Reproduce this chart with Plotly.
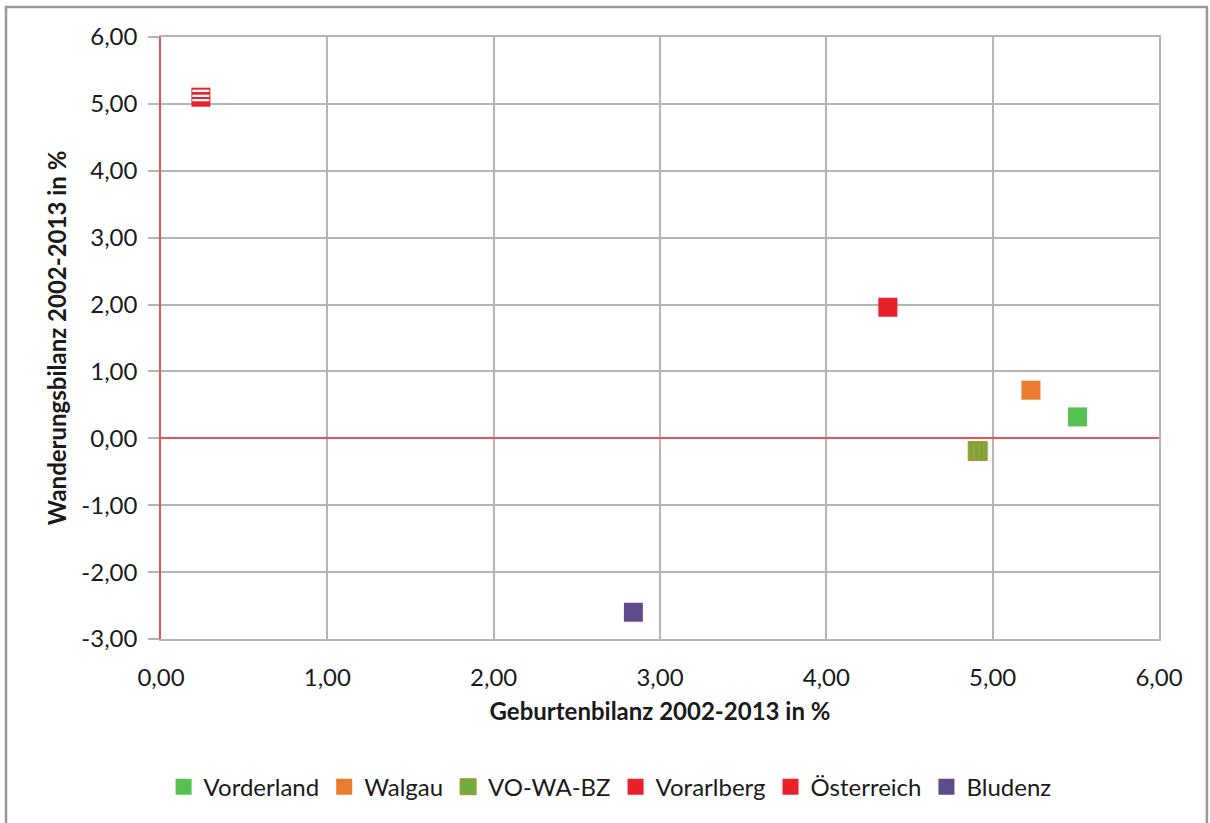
import plotly.graph_objects as go

# ---- data ----
names = ["Vorderland", "Walgau", "VO-WA-BZ", "Vorarlberg", "Österreich", "Bludenz"]
geburten = [5.51, 5.23, 4.91, 4.37, 0.24, 2.84]
wanderung = [0.32, 0.72, -0.19, 1.96, 5.10, -2.60]
colors = ["#55c152", "#ea7b2f", "#7ea23c", "#e8202a", "#e8202a", "#5f4a8b"]
x_ticks = [0, 1, 2, 3, 4, 5, 6]
x_ticktext = ["0,00", "1,00", "2,00", "3,00", "4,00", "5,00", "6,00"]
y_ticks = [-3, -2, -1, 0, 1, 2, 3, 4, 5, 6]
y_ticktext = ["-3,00", "-2,00", "-1,00", "0,00", "1,00", "2,00", "3,00",
              "4,00", "5,00", "6,00"]

FONT = "Lato"
GRID = "#b4b4b4"
RED = "#e25555"
FS = 24

fig = go.Figure()

for i, n in enumerate(names):
    if n == "Österreich":
        # red square with white horizontal bars on top -> red stripes
        fig.add_trace(go.Scatter(
            x=[geburten[i]], y=[wanderung[i]], mode="markers", name=n,
            legendgroup=n,
            marker=dict(symbol="square", size=19, color=colors[i]),
        ))
        fig.add_trace(go.Scatter(
            x=[geburten[i]], y=[wanderung[i]], mode="text", text=["≡"],
            legendgroup=n, showlegend=False, hoverinfo="skip",
            textfont=dict(family="DejaVu Sans", size=27, color="white"),
            textposition="middle center",
        ))
    elif n == "VO-WA-BZ":
        fig.add_trace(go.Scatter(
            x=[geburten[i]], y=[wanderung[i]], mode="markers", name=n,
            legendgroup=n,
            marker=dict(symbol="square", size=19, color="#6fae3e",
                        line=dict(color="#c9842e", width=1)),
        ))
        fig.add_trace(go.Scatter(
            x=[geburten[i]], y=[wanderung[i]], mode="text", text=["|||"],
            legendgroup=n, showlegend=False, hoverinfo="skip",
            textfont=dict(family="DejaVu Sans", size=15, color="#c9842e"),
            textposition="middle center",
        ))
    else:
        fig.add_trace(go.Scatter(
            x=[geburten[i]], y=[wanderung[i]], mode="markers", name=n,
            marker=dict(symbol="square", size=19, color=colors[i]),
        ))

# invisible helper trace on a mirrored right axis to draw the right frame
fig.add_trace(go.Scatter(x=[None], y=[None], yaxis="y2", showlegend=False,
                         hoverinfo="skip"))

fig.update_layout(
    width=1210, height=823,
    paper_bgcolor="white", plot_bgcolor="white",
    margin=dict(l=161, r=51, t=37, b=184),
    font=dict(family=FONT, size=FS, color="#1a1a1a"),
    showlegend=True,
    legend=dict(orientation="h", x=0.45, xanchor="center", y=-0.246,
                yanchor="middle", font=dict(family=FONT, size=FS),
                itemwidth=30, tracegroupgap=0, itemsizing="trace"),
    xaxis=dict(
        range=[0, 6], tickvals=x_ticks, ticktext=x_ticktext,
        showgrid=True, gridcolor=GRID, gridwidth=1.5,
        zeroline=False, showline=True, linecolor=GRID, linewidth=1.5,
        mirror=True, ticks="", ticklabelstandoff=16,
        title=dict(text="<b>Geburtenbilanz 2002-2013 in %</b>", standoff=14,
                   font=dict(family=FONT, size=FS)),
    ),
    yaxis=dict(
        range=[-3, 6], tickvals=y_ticks, ticktext=y_ticktext,
        showgrid=True, gridcolor=GRID, gridwidth=1.5,
        zeroline=True, zerolinecolor=RED, zerolinewidth=1.5,
        showline=True, linecolor=RED, linewidth=1.5,
        ticks="outside", ticklen=11, tickcolor=GRID, tickwidth=1.5,
        ticklabelstandoff=6,
        title=dict(text="<b>Wanderungsbilanz 2002-2013 in %</b>", standoff=8,
                   font=dict(family=FONT, size=FS)),
    ),
    yaxis2=dict(
        range=[-3, 6], overlaying="y", side="right", showgrid=False,
        zeroline=False, showline=True, linecolor=GRID, linewidth=1.5,
        showticklabels=False, ticks="",
    ),
    shapes=[dict(type="rect", xref="paper", yref="paper",
                 x0=-0.1553, x1=1.048, y0=-0.33, y1=1.0498,
                 line=dict(color="#9a9a9a", width=2.5), layer="below")],
)

fig.write_html("out.html", config={"displayModeBar": False},
               post_script="document.body.style.margin='0';")
